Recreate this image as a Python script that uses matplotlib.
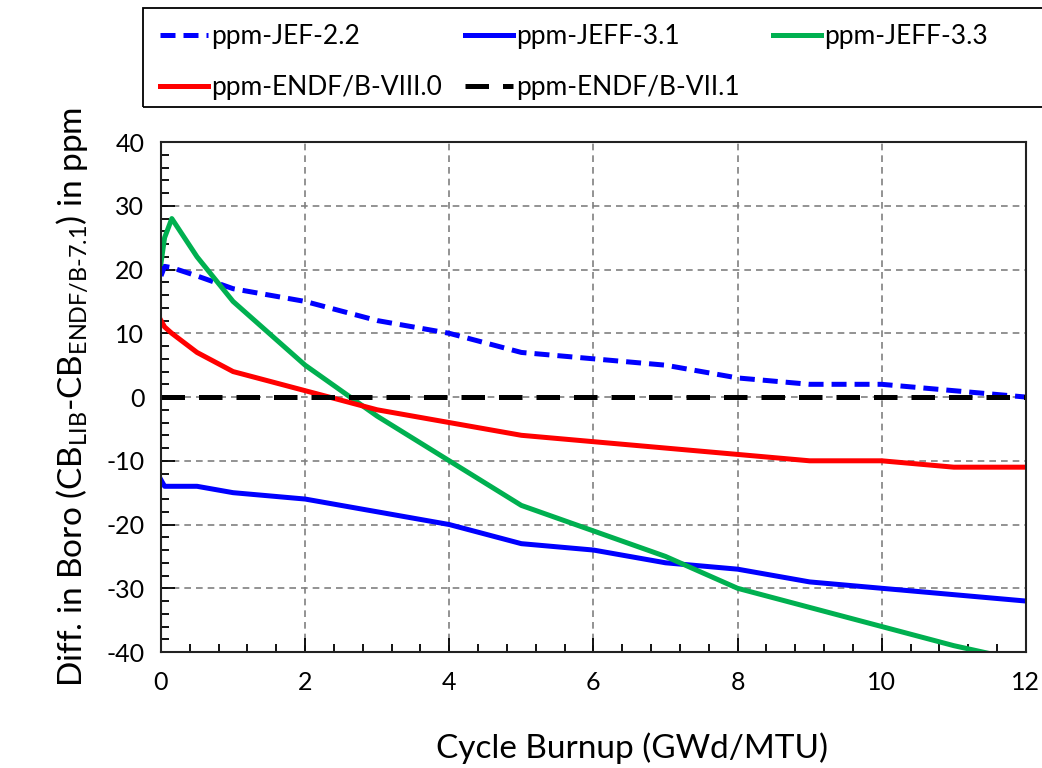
import numpy as np
import matplotlib.pyplot as plt
from matplotlib.ticker import MultipleLocator
from matplotlib.patches import Rectangle

plt.rcParams['font.family'] = ['Lato', 'DejaVu Sans']
plt.rcParams['mathtext.fontset'] = 'custom'
plt.rcParams['mathtext.rm'] = 'Lato'
plt.rcParams['mathtext.it'] = 'Lato:italic'
plt.rcParams['axes.unicode_minus'] = False

# burnup steps (GWd/MTU)
burnup = [0, 0.05, 0.15, 0.5, 1, 2, 3, 4, 5, 6, 7, 8, 9, 10, 11, 12]

# boron difference vs ENDF/B-VII.1 (ppm)
jef22 = [19, 20.5, 20.3, 19, 17, 15, 12, 10, 7, 6, 5, 3, 2, 2, 1, 0]
jeff31 = [-13, -14, -14, -14, -15, -16, -18, -20, -23, -24, -26, -27, -29, -30, -31, -32]
jeff33 = [21, 25, 28, 22, 15, 5, -3, -10, -17, -21, -25, -30, -33, -36, -39, -41.5]
endf80 = [12, 11, 10, 7, 4, 1, -2, -4, -6, -7, -8, -9, -10, -10, -11, -11]
endf71 = [0] * len(burnup)

fig = plt.figure(figsize=(10.42, 7.68), dpi=100)
ax = fig.add_axes([0.1545, 0.151, 0.830, 0.664])

ax.grid(True, which='major', color='#808080', linestyle=(0, (4, 3)), linewidth=1.2)
ax.set_axisbelow(True)

lw = 3.6
h1, = ax.plot(burnup, jef22, color='#0000FF', lw=lw, linestyle=(0, (3.0, 1.6)), label='ppm-JEF-2.2')
h2, = ax.plot(burnup, jeff31, color='#0000FF', lw=lw, label='ppm-JEFF-3.1')
h3, = ax.plot(burnup, jeff33, color='#00B050', lw=lw, label='ppm-JEFF-3.3')
h4, = ax.plot(burnup, endf80, color='#FF0000', lw=lw, label='ppm-ENDF/B-VIII.0')
h5, = ax.plot(burnup, endf71, color='black', lw=lw, linestyle=(0, (4.7, 2.8)), label='ppm-ENDF/B-VII.1')

ax.set_xlim(0, 12)
ax.set_ylim(-40, 40)
ax.xaxis.set_major_locator(MultipleLocator(2))
ax.xaxis.set_minor_locator(MultipleLocator(0.4))
ax.yaxis.set_major_locator(MultipleLocator(10))
ax.yaxis.set_minor_locator(MultipleLocator(2))
ax.tick_params(which='both', direction='in', labelsize=18, width=1.3, color='black')
ax.tick_params(which='major', length=10)
ax.tick_params(which='minor', length=6)
ax.tick_params(axis='x', which='major', pad=14)
ax.tick_params(axis='y', which='major', pad=12)
for s in ax.spines.values():
    s.set_linewidth(1.5)
    s.set_color('#222222')

ax.set_xlabel('Cycle Burnup (GWd/MTU)', fontsize=24)
ax.xaxis.set_label_coords(0.545, -0.158)
ax.set_ylabel(r'Diff. in Boro (CB$_{\mathrm{LIB}}$-CB$_{\mathrm{ENDF/B\text{-}7.1}}$) in ppm',
              fontsize=24, labelpad=12)

# legend box across the top, three columns laid out row by row
fig.add_artist(Rectangle((143 / 1042, 1 - 107 / 768), 0.9, 99 / 768,
                         transform=fig.transFigure, fill=False,
                         edgecolor='black', linewidth=1.3))
columns = [([h1, h4], 160), ([h2, h5], 465), ([h3], 773)]
for handles, xpx in columns:
    fig.legend(handles=handles, loc='upper left',
               bbox_to_anchor=(xpx / 1042, 1 - 24 / 768),
               fontsize=19, frameon=False, handlelength=1.8, handletextpad=0.15,
               borderpad=0, borderaxespad=0, labelspacing=0.98)

fig.savefig('out.png', dpi=100)
